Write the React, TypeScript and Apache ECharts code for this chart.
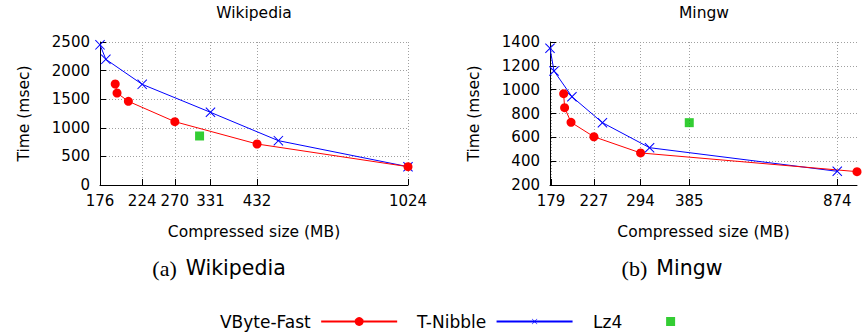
import React, { useEffect, useRef } from "react";
import * as echarts from "echarts";

// ---- data ----
const wikiXTicks = [176, 224, 270, 331, 432, 1024];
const mingwXTicks = [179, 227, 294, 385, 874];

const wikiVByteX = [192, 194, 207, 270, 432, 1024];
const wikiVByteY = [1766, 1608, 1463, 1107, 717, 320];
const wikiTNibbleX = [176, 182, 224, 331, 488, 1024];
const wikiTNibbleY = [2450, 2197, 1760, 1271, 775, 320];
const wikiLz4X = [311];
const wikiLz4Y = [857];

const mingwVByteX = [192, 193, 200, 227, 294, 975];
const mingwVByteY = [966, 849, 726, 605, 469, 312];
const mingwTNibbleX = [178, 182, 201, 238, 309, 874];
const mingwTNibbleY = [1347, 1157, 941, 723, 513, 315];
const mingwLz4X = [385];
const mingwLz4Y = [723];

const seriesNames = ["VByte-Fast", "T-Nibble", "Lz4"];

const FONT = "DejaVu Sans";
const RED = "#ff0000";
const BLUE = "#0000ff";
const GREEN = "#00c000";
const XMARK =
  "path://M0,0.7L0.7,0L5,4.3L9.3,0L10,0.7L5.7,5L10,9.3L9.3,10L5,5.7L0.7,10L0,9.3L4.3,5Z";
const SQUARE = "path://M0,0L10,0L10,10L0,10Z";

const lg = (v: number) => Math.log10(v);
const pts = (xs: number[], ys: number[]) => xs.map((x, i) => [lg(x), ys[i]]);

function xAxisFor(gridIndex: number, min: number, max: number, ticks: number[]) {
  const tv = ticks.map(lg);
  return {
    type: "value",
    gridIndex,
    min: lg(min),
    max: lg(max),
    name: "Compressed size (MB)",
    nameLocation: "middle",
    nameGap: 39,
    nameTextStyle: { fontFamily: FONT, fontSize: 15.5, color: "#000" },
    axisLine: { show: true, lineStyle: { color: "#000", width: 1 } },
    axisTick: { show: true, inside: true, length: 6, lineStyle: { color: "#000" }, customValues: tv },
    axisLabel: {
      show: true,
      customValues: tv,
      margin: 8,
      fontFamily: FONT,
      fontSize: 15,
      color: "#000",
      formatter: (v: number) => String(Math.round(Math.pow(10, v))),
    },
    splitLine: { show: true, lineStyle: { color: "#a0a0a0", width: 1, type: [1, 2] } },
  };
}

function yAxisFor(gridIndex: number, min: number, max: number, interval: number) {
  return {
    type: "value",
    gridIndex,
    min,
    max,
    interval,
    name: "Time (msec)",
    nameLocation: "middle",
    nameGap: 68,
    nameTextStyle: { fontFamily: FONT, fontSize: 15.5, color: "#000" },
    axisLine: { show: true, lineStyle: { color: "#000", width: 1 } },
    axisTick: { show: true, inside: true, length: 6, lineStyle: { color: "#000" } },
    axisLabel: {
      margin: 10,
      fontFamily: FONT,
      fontSize: 15,
      color: "#000",
      formatter: (v: number) => String(v),
    },
    splitLine: { show: true, lineStyle: { color: "#a0a0a0", width: 1, type: [1, 2] } },
  };
}

function seriesFor(idx: number, vx: number[], vy: number[], tx: number[], ty: number[], lx: number[], ly: number[]) {
  return [
    {
      name: seriesNames[1],
      type: "line",
      xAxisIndex: idx,
      yAxisIndex: idx,
      data: pts(tx, ty),
      symbol: XMARK,
      symbolSize: 10,
      lineStyle: { color: BLUE, width: 1 },
      itemStyle: { color: BLUE },
    },
    {
      name: seriesNames[0],
      type: "line",
      xAxisIndex: idx,
      yAxisIndex: idx,
      data: pts(vx, vy),
      symbol: "circle",
      symbolSize: 9,
      lineStyle: { color: RED, width: 1 },
      itemStyle: { color: RED },
    },
    {
      name: seriesNames[2],
      type: "scatter",
      xAxisIndex: idx,
      yAxisIndex: idx,
      data: pts(lx, ly),
      symbol: "rect",
      symbolSize: 9,
      itemStyle: { color: GREEN },
    },
  ];
}

function caption(x: number, tag: string, label: string) {
  return {
    type: "text",
    x,
    y: 268,
    style: {
      text: `{a|${tag}}{b|${label}}`,
      align: "center",
      verticalAlign: "middle",
      rich: {
        a: { fontFamily: "Liberation Serif", fontSize: 22, fill: "#000", padding: [0, 9, 0, 0] },
        b: { fontFamily: FONT, fontSize: 20.5, fill: "#000" },
      },
    },
  };
}

export default function App() {
  const ref = useRef<HTMLDivElement>(null);
  useEffect(() => {
    document.body.style.margin = "0";
    if (!ref.current) return;
    const chart = echarts.init(ref.current, null, { renderer: "svg" });
    const legendBase = {
      orient: "horizontal",
      align: "right",
      padding: 0,
      itemWidth: 76,
      selectedMode: false,
      textStyle: { fontFamily: FONT, fontSize: 17, color: "#000" },
      formatter: (n: string) => n + " ",
    };
    chart.setOption({
      animation: false,
      backgroundColor: "#fff",
      grid: [
        { left: 100, top: 42, width: 308, height: 143 },
        { left: 550, top: 42, width: 307, height: 143 },
      ],
      xAxis: [xAxisFor(0, 176, 1024, wikiXTicks), xAxisFor(1, 178, 975, mingwXTicks)],
      yAxis: [yAxisFor(0, 0, 2500, 500), yAxisFor(1, 200, 1400, 200)],
      legend: [
        { ...legendBase, left: 220, top: 313, itemHeight: 11, data: [seriesNames[0]] },
        { ...legendBase, left: 417, top: 313, itemHeight: 7, data: [seriesNames[1]] },
        { ...legendBase, left: 593, top: 313, itemHeight: 9, icon: SQUARE, data: [seriesNames[2]] },
      ],
      graphic: [
        {
          type: "text",
          x: 254,
          y: 13,
          style: { text: "Wikipedia", font: `15.5px '${FONT}'`, fill: "#000", align: "center", verticalAlign: "middle" },
        },
        {
          type: "text",
          x: 704,
          y: 13,
          style: { text: "Mingw", font: `15.5px '${FONT}'`, fill: "#000", align: "center", verticalAlign: "middle" },
        },
        caption(219, "(a)", "Wikipedia"),
        caption(672, "(b)", "Mingw"),
      ],
      series: [
        ...seriesFor(0, wikiVByteX, wikiVByteY, wikiTNibbleX, wikiTNibbleY, wikiLz4X, wikiLz4Y),
        ...seriesFor(1, mingwVByteX, mingwVByteY, mingwTNibbleX, mingwTNibbleY, mingwLz4X, mingwLz4Y),
      ],
    });
    return () => chart.dispose();
  }, []);
  return <div ref={ref} style={{ width: 862, height: 335 }} />;
}
